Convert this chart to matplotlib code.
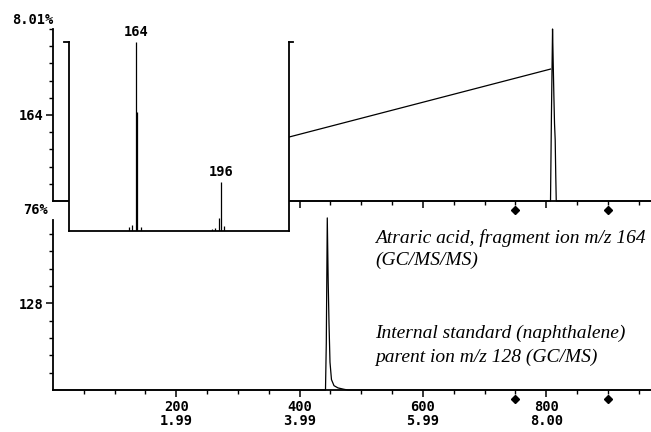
import matplotlib
matplotlib.use('Agg')
import matplotlib.pyplot as plt
from matplotlib.ticker import FixedLocator

# chromatogram traces (scan number, % intensity)
top_scan = [0, 807, 808.5, 810.3, 811.5, 812.5, 813.5, 814.6, 815.5, 816.3, 970]
top_int = [0, 0, 50, 100, 78, 60.5, 45, 35.5, 15, 0, 0]
link_scan = [383, 807]        # line from the spectrum box to the peak
link_int = [37.2, 76.7]

bot_scan = [0, 442.0, 443.3, 444.9, 446.4, 447.7, 449.3, 451.7, 455.8, 462.3, 472, 478.5, 970]
bot_int = [0, 0, 27, 99.2, 62, 38.5, 16, 6, 2.5, 1.2, 0.4, 0, 0]

marker_scans = [750, 900]

# mass spectrum of the atraric acid peak
mz = [161.5, 162.5, 164, 164.4, 165.8, 192.6, 193.7, 195.1, 196, 197.2]
abund = [2, 3, 100, 63, 2, 1, 1.5, 7, 26, 2.5]
mz_labels = [164, 196]

xticks_major = [200, 400, 600, 800]
xticks_minor = list(range(50, 970, 50))
xtick_labels = ['200\n1.99', '400\n3.99', '600\n5.99', '800\n8.00']

W, H = 651, 432
def rect(l, t, r, b):
    return [l / W, 1 - b / H, (r - l) / W, (b - t) / H]

mono = dict(family='DejaVu Sans Mono', weight='bold', size=9.8)
lw_spine = 1.3
lw_trace = 0.9

fig = plt.figure(figsize=(6.51, 4.32), dpi=100)

ax_top = fig.add_axes(rect(53, 29, 651, 201))
ax_bot = fig.add_axes(rect(53, 220, 651, 390))
ax_ins = fig.add_axes(rect(68.5, 42.5, 289, 231))

for ax, yminor in [(ax_top, range(10, 101, 10)), (ax_bot, range(10, 91, 10))]:
    ax.set_facecolor('none')
    ax.set_xlim(0, 970)
    for s in ['top', 'right']:
        ax.spines[s].set_visible(False)
    for s in ['left', 'bottom']:
        ax.spines[s].set_linewidth(lw_spine)
    ax.xaxis.set_major_locator(FixedLocator(xticks_major))
    ax.xaxis.set_minor_locator(FixedLocator(xticks_minor))
    ax.yaxis.set_minor_locator(FixedLocator(list(yminor)))
    ax.tick_params(which='major', direction='out', length=5, width=1.1, pad=2)
    ax.tick_params(which='minor', direction='out', length=3, width=1.0)

ax_top.set_ylim(0, 100)
ax_bot.set_ylim(0, 98)

ax_top.plot(top_scan, top_int, color='black', lw=lw_trace, clip_on=False)
ax_top.plot(link_scan, link_int, color='black', lw=lw_trace)
ax_bot.plot(bot_scan, bot_int, color='black', lw=lw_trace, clip_on=False)

ax_top.set_xticks(xticks_major, [''] * 4)
ax_bot.set_xticks(xticks_major, xtick_labels, **mono, linespacing=1.05)
ax_top.set_yticks([50], ['164'], **mono)
ax_bot.set_yticks([50], ['128'], **mono)

# event markers under each baseline
ax_top.plot(marker_scans, [-5.2] * 2, 'kD', ms=4.5, clip_on=False)
ax_bot.plot(marker_scans, [-5.2] * 2, 'kD', ms=4.5, clip_on=False)

fig.text(53 / W, 1 - 20 / H, '8.01%', ha='right', va='center', **mono)
fig.text(48 / W, 1 - 210 / H, '76%', ha='right', va='center', **mono)

# inset spectrum
ax_ins.set_zorder(5)
ax_ins.set_facecolor('white')
ax_ins.set_xlim(138.6, 221.6)
ax_ins.set_ylim(0, 100)
ax_ins.spines['top'].set_visible(False)
for s in ['left', 'right', 'bottom']:
    ax_ins.spines[s].set_linewidth(lw_spine)
ax_ins.set_xticks([])
ax_ins.set_yticks([])
ax_ins.vlines(mz, 0, abund, color='black', lw=lw_trace)
for m in mz_labels:
    a = abund[mz.index(m)]
    ax_ins.annotate(str(m), (m, a), xytext=(0, 2.5), textcoords='offset points',
                    ha='center', va='bottom', annotation_clip=False, **mono)
ax_ins.plot([-0.02, 0], [1, 1], color='black', lw=lw_spine,
            transform=ax_ins.transAxes, clip_on=False)
ax_ins.plot([1, 1.02], [1, 1], color='black', lw=lw_spine,
            transform=ax_ins.transAxes, clip_on=False)

serif = dict(family='Liberation Serif', style='italic', size=14, va='center', ha='left')
fig.text(375 / W, 1 - 238 / H, 'Atraric acid, fragment ion m/z 164', **serif)
fig.text(375 / W, 1 - 260 / H, '(GC/MS/MS)', **serif)
fig.text(375 / W, 1 - 333 / H, 'Internal standard (naphthalene)', **serif)
fig.text(375 / W, 1 - 357 / H, 'parent ion m/z 128 (GC/MS)', **serif)

fig.savefig('out.png', dpi=100)
